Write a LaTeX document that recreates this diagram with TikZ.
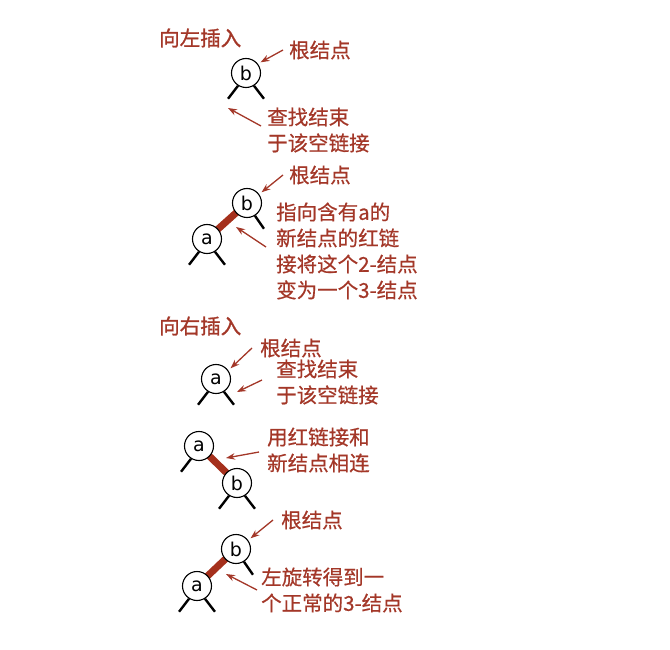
\documentclass[tikz,border=0pt]{standalone}
\usepackage{fontspec}
\setmainfont{Noto Sans CJK SC}[FakeBold=0.5]
\newfontfamily\titlefont{Noto Sans CJK SC}[FakeBold=1.2]
\newfontfamily\nodefont{DejaVu Sans}
\usetikzlibrary{arrows.meta,backgrounds}
\definecolor{txtred}{RGB}{163,55,40}
\definecolor{linkred}{RGB}{165,48,28}
\begin{document}
\begin{tikzpicture}[x=1pt,y=-1pt,
  tn/.style={circle,draw=black,line width=1.1pt,fill=white,minimum size=29pt,inner sep=0pt,font=\nodefont\fontsize{19}{19}\selectfont},
  lbl/.style={text=txtred,font=\fontsize{20.5}{26}\selectfont,align=left,inner sep=0pt,anchor=west},
  ttl/.style={text=txtred,font=\titlefont\fontsize{20.5}{26}\selectfont,inner sep=0pt,anchor=west},
  note/.style={draw=txtred,line width=1.3pt,-{Stealth[length=9pt,width=6.5pt]}},
  leg/.style={draw=black,line width=2.4pt},
  redlink/.style={draw=linkred,line width=7pt}]
\useasboundingbox (0,0) rectangle (670,650);

% ---------- section 1: insert left ----------
\node[ttl] (t1) at (159,38) {向左插入};
\node[tn] (b1) at (246,73) {b};
\draw[leg] (b1.-122) -- ++(-10,13);
\draw[leg] (b1.-58) -- ++(10,13);
\node[lbl] (r1) at (289,50) {根结点};
\draw[note] ([xshift=-6pt]r1.west) -- ([shift={(3,-1)}]b1.40);
\node[lbl] (s1) at (267,130) {查找结束\\于该空链接};
\coordinate (e1) at (228,108);
\draw[note] ([shift={(-6,-4)}]s1.west) -- (e1);

% ---------- section 2 ----------
\node[lbl] (r2) at (289,175) {根结点};
\node[tn] (b2) at (247,203) {b};
\node[tn] (a2) at (207,239) {a};
\begin{scope}[on background layer]
\draw[redlink] (a2.center) -- (b2.center);
\end{scope}
\draw[leg] (b2.-58) -- ++(9,13);
\draw[leg] (a2.-122) -- ++(-10,13);
\draw[leg] (a2.-58) -- ++(10,13);
\draw[note] ([xshift=-6pt]r2.west) -- ([shift={(3,-1)}]b2.40);
\node[lbl] (n2) at (276,251) {指向含有a的\\新结点的红链\\接将这个2-结点\\变为一个3-结点};
\coordinate (e2) at (236,227);
\draw[note] ([shift={(-10,-4)}]n2.west) -- (e2);

% ---------- section 3: insert right ----------
\node[ttl] (t3) at (159,326) {向右插入};
\node[tn] (a3) at (216,379) {a};
\draw[leg] (a3.-122) -- ++(-10,13);
\draw[leg] (a3.-58) -- ++(10,13);
\node[lbl] (r3) at (260,348) {根结点};
\draw[note] ([xshift=-8pt]r3.west) -- ([shift={(3,-1)}]a3.40);
\node[lbl] (s3) at (276,382) {查找结束\\于该空链接};
\coordinate (e3) at (237,392);
\draw[note] ([shift={(-14,-2)}]s3.west) -- (e3);

% ---------- section 4 ----------
\node[tn] (a4) at (199,446) {a};
\node[tn] (b4) at (237,483) {b};
\begin{scope}[on background layer]
\draw[redlink] (a4.center) -- (b4.center);
\end{scope}
\draw[leg] (a4.-122) -- ++(-10,13);
\draw[leg] (b4.-122) -- ++(-10,13);
\draw[leg] (b4.-58) -- ++(10,13);
\node[lbl] (s4) at (267,450) {用红链接和\\新结点相连};
\coordinate (e4) at (226,458);
\draw[note] ([shift={(-8,2)}]s4.west) -- (e4);

% ---------- section 5 ----------
\node[lbl] (r5) at (281,520) {根结点};
\node[tn] (b5) at (236,549) {b};
\node[tn] (a5) at (197,586) {a};
\begin{scope}[on background layer]
\draw[redlink] (a5.center) -- (b5.center);
\end{scope}
\draw[leg] (b5.-58) -- ++(9,13);
\draw[leg] (a5.-122) -- ++(-10,13);
\draw[leg] (a5.-58) -- ++(10,13);
\draw[note] ([xshift=-8pt]r5.west) -- ([shift={(3,-1)}]b5.40);
\node[lbl] (s5) at (261,590) {左旋转得到一\\个正常的3-结点};
\coordinate (e5) at (226,574);
\draw[note] ([shift={(-4,0)}]s5.west) -- (e5);
\end{tikzpicture}
\end{document}
